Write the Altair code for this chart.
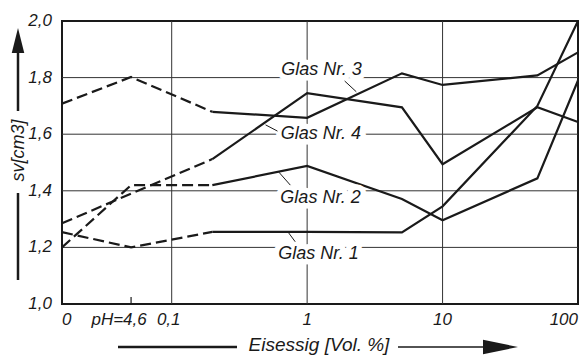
import altair as alt
import pandas as pd

# ---- data (x in decades: log10 of Vol.% ; "0" and "pH=4,6" sit at their axis places)
x_pos = [-1.81, -1.30, -0.70, 0.0, 0.70, 1.0, 1.70, 2.0]
glas1 = [1.254, 1.200, 1.255, 1.255, 1.253, 1.345, 1.700, 2.000]
glas2 = [1.200, 1.420, 1.420, 1.488, 1.371, 1.296, 1.444, 1.790]
glas3 = [1.708, 1.802, 1.679, 1.658, 1.815, 1.774, 1.808, 1.889]
glas4 = [1.285, 1.390, 1.512, 1.745, 1.695, 1.494, 1.695, 1.643]
dash_end = -0.70

tick_pos = [-1.81, -1.30, -1.0, 0.0, 1.0, 2.0]
tick_labels = ["0", "pH=4,6", "0,1", "1", "10", "100"]
y_ticks = [1.0, 1.2, 1.4, 1.6, 1.8, 2.0]
y_tick_labels = ["1,0", "1,2", "1,4", "1,6", "1,8", "2,0"]
grid_x = [-1.0, 0.0, 1.0]
grid_y = [1.2, 1.4, 1.6, 1.8]
ph_tick = [-1.30]

label_names = ["Glas Nr. 1", "Glas Nr. 2", "Glas Nr. 3", "Glas Nr. 4"]
label_x = [0.084, 0.099, 0.106, 0.102]
label_y = [1.175, 1.373, 1.827, 1.599]
leader_x1 = [-0.136, -0.209, 0.277, -0.307]
leader_y1 = [1.251, 1.466, 1.788, 1.633]
leader_x2 = [-0.088, -0.124, 0.363, -0.219]
leader_y2 = [1.220, 1.420, 1.750, 1.611]

INK = "#1a1a1a"
FONT = "Liberation Sans"
W, H = 516, 283

rows = []
for name, vals in zip(label_names, [glas1, glas2, glas3, glas4]):
    for xv, yv in zip(x_pos, vals):
        rows.append({"x": xv, "y": yv, "glas": name})
df = pd.DataFrame(rows)

xscale = alt.Scale(domain=[-1.81, 2.0], nice=False, zero=False)
yscale = alt.Scale(domain=[1.0, 2.0], nice=False, zero=False)

def X(f):
    return alt.X(f, scale=xscale, axis=None)

def Y(f):
    return alt.Y(f, scale=yscale, axis=None)

grid_h = alt.Chart(pd.DataFrame({"gy": grid_y})).mark_rule(color="#333", strokeWidth=1).encode(
    y=Y("gy:Q"))
grid_v = alt.Chart(pd.DataFrame({"gx": grid_x})).mark_rule(color="#333", strokeWidth=1).encode(
    x=X("gx:Q"))
ph = alt.Chart(pd.DataFrame({"px": ph_tick, "py": [1.0], "py2": [1.025]})).mark_rule(
    color=INK, strokeWidth=1.2).encode(x=X("px:Q"), y=Y("py:Q"), y2="py2:Q")

dashed = alt.Chart(df).transform_filter(f"datum.x <= {dash_end} + 0.001").mark_line(
    color=INK, strokeWidth=2.2, strokeDash=[11, 5]).encode(
    x=X("x:Q"), y=Y("y:Q"), detail="glas:N")
solid = alt.Chart(df).transform_filter(f"datum.x >= {dash_end} - 0.001").mark_line(
    color=INK, strokeWidth=2.2).encode(
    x=X("x:Q"), y=Y("y:Q"), detail="glas:N")

lab_df = pd.DataFrame({"lx": label_x, "ly": label_y, "t": label_names})
halo = alt.Chart(lab_df).mark_text(font=FONT, fontSize=18, fontStyle="italic", color="white",
                                   stroke="white", strokeWidth=11, strokeJoin="round",
                                   align="center", baseline="middle").encode(
    x=X("lx:Q"), y=Y("ly:Q"), text="t:N")
labels = alt.Chart(lab_df).mark_text(font=FONT, fontSize=18, fontStyle="italic", color=INK,
                                     align="center", baseline="middle").encode(
    x=X("lx:Q"), y=Y("ly:Q"), text="t:N")
leaders = alt.Chart(pd.DataFrame({"a": leader_x1, "b": leader_y1, "c": leader_x2, "d": leader_y2})).mark_rule(
    color=INK, strokeWidth=1).encode(x=X("a:Q"), y=Y("b:Q"), x2="c:Q", y2="d:Q")

# ---- tick labels (placed through the scales)
xt = pd.DataFrame({"v": tick_pos, "t": tick_labels, "i": list(range(len(tick_pos)))})
last = len(tick_pos) - 1
def xlab(filt, align, dx):
    return alt.Chart(xt).transform_filter(filt).mark_text(
        font=FONT, fontSize=17, fontStyle="italic", color=INK, align=align,
        baseline="middle", dx=dx).encode(x=X("v:Q"), y=alt.value(H + 16), text="t:N")
xl_first = xlab("datum.i == 0", "left", 0)
xl_ph = xlab("datum.i == 1", "center", -12)
xl_01 = xlab("datum.i == 2", "center", -3)
xl_mid = xlab(f"datum.i > 2 && datum.i < {last}", "center", 0)
xl_last = xlab(f"datum.i == {last}", "right", 0)

yt = pd.DataFrame({"v": y_ticks, "t": y_tick_labels})
ylab = alt.Chart(yt).mark_text(font=FONT, fontSize=17, fontStyle="italic", color=INK,
                               align="right", baseline="middle").encode(
    x=alt.value(-10), y=Y("v:Q"), text="t:N")

one = pd.DataFrame({"k": [0]})
deco = []
AX = -44.0   # y-axis arrow column, relative to plot left
deco.append(alt.Chart(one).mark_rule(color=INK, strokeWidth=2.5).encode(
    x=alt.value(AX), y=alt.value(31), y2=alt.value(90)))
deco.append(alt.Chart(one).mark_rule(color=INK, strokeWidth=2.5).encode(
    x=alt.value(AX), y=alt.value(172), y2=alt.value(259)))
deco.append(alt.Chart(one).mark_point(shape="M0,-1L0.5,1L-0.5,1Z", size=625, filled=True,
                                      color=INK, opacity=1, strokeWidth=0).encode(
    x=alt.value(AX), y=alt.value(19.5)))
deco.append(alt.Chart(one).mark_text(text="sv[cm3]", angle=270, font=FONT, fontSize=18,
                                     fontStyle="italic", color=INK, align="center",
                                     baseline="middle").encode(
    x=alt.value(AX + 1), y=alt.value(129.5)))
deco.append(alt.Chart(one).mark_rule(color=INK, strokeWidth=2.5).encode(
    x=alt.value(56), x2=alt.value(175), y=alt.value(H + 43)))
deco.append(alt.Chart(one).mark_rule(color=INK, strokeWidth=1.5).encode(
    x=alt.value(336), x2=alt.value(422), y=alt.value(H + 43)))
deco.append(alt.Chart(one).mark_point(shape="M1,0L-1,0.42L-1,-0.42Z", size=1225, filled=True,
                                      color=INK, opacity=1, strokeWidth=0).encode(
    x=alt.value(438.5), y=alt.value(H + 43)))
deco.append(alt.Chart(one).mark_text(text="Eisessig [Vol. %]", font=FONT, fontSize=19,
                                     fontStyle="italic", color=INK, align="center",
                                     baseline="middle").encode(
    x=alt.value(257), y=alt.value(H + 41)))

chart = alt.layer(grid_h, grid_v, ph, dashed, solid, halo, labels, leaders,
                  xl_first, xl_ph, xl_01, xl_mid, xl_last, ylab, *deco).properties(
    width=W, height=H,
    autosize=alt.AutoSizeParams(type="none"),
    padding={"left": 54, "top": 13, "right": 1, "bottom": 54},
    background="white",
).configure_view(stroke=INK, strokeWidth=2)

chart.save("out.html", embed_options={"renderer": "svg", "actions": False})
